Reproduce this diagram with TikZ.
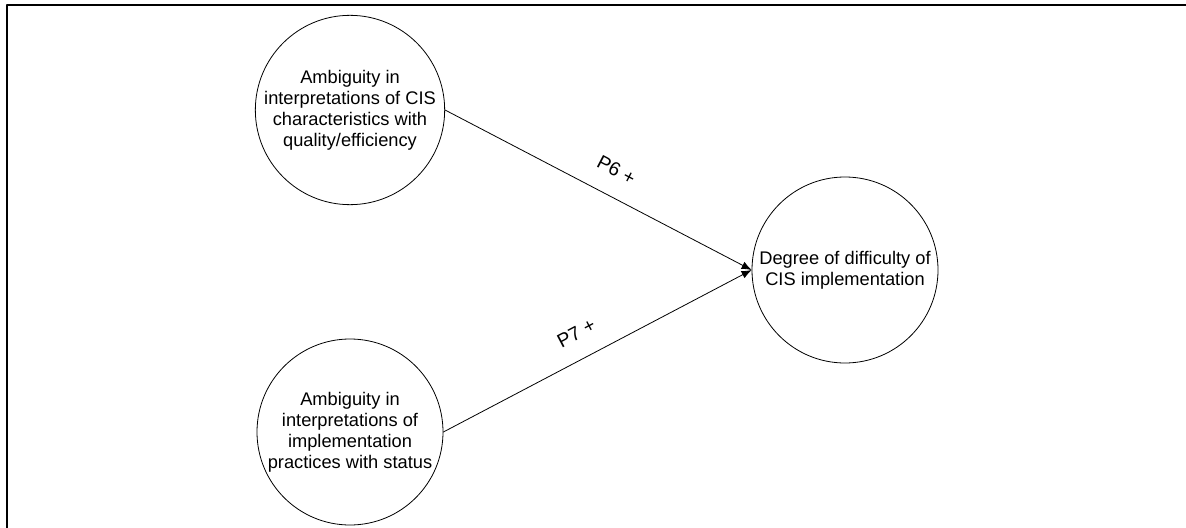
\documentclass[tikz,border=0pt]{standalone}
\usepackage{fontspec}
\setmainfont{Liberation Sans}
\usepackage{tikz}
\usetikzlibrary{arrows.meta}

\begin{document}
\begin{tikzpicture}[
                x=0.75pt,
                y=-0.75pt,
                line cap=round,
                line join=round,
                construct/.style={circle, draw, line width=0.6pt, minimum size=139.5pt,
                    inner sep=0pt, align=center,
                    font=\fontsize{13.7pt}{15.8pt}\selectfont},
                link/.style={line width=0.6pt, -{Latex[length=7.5pt,width=6pt]}},
                plabel/.style={sloped, above=14pt, inner sep=0pt,
                    font=\fontsize{14.5pt}{16pt}\selectfont}
            ]
            \useasboundingbox (0,0) rectangle (1186,528);

            % Frame (top and left edges only)
            \draw[line width=1.6pt, line cap=butt] (7,528) -- (7,5) -- (1186,5);

            % Constructs
            \node[construct] (ambcis) at (350,110)
                {Ambiguity in\\interpretations of CIS\\characteristics with\\quality/efficiency};
            \node[construct] (ambpractice) at (350,432)
                {Ambiguity in\\interpretations of\\implementation\\practices with status};
            \node[construct] (difficulty) at (845,270)
                {Degree of difficulty of\\CIS implementation};

            % Propositions
            \draw[link] (ambcis.east) -- (difficulty.west) node[plabel, pos=0.52] {P6 +};
            \draw[link] (ambpractice.east) -- (difficulty.west) node[plabel, pos=0.47] {P7 +};
        \end{tikzpicture}
\end{document}
